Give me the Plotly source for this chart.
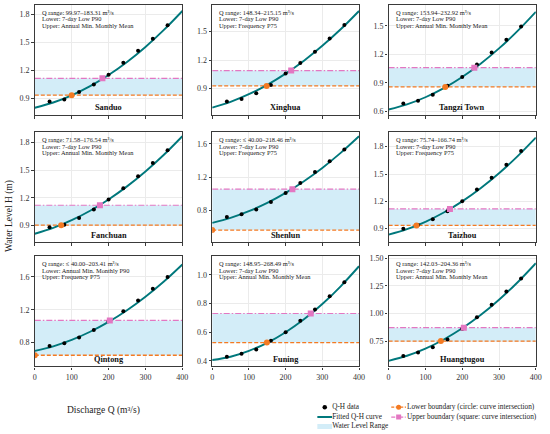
import plotly.graph_objects as go
from plotly.subplots import make_subplots

# stations, row by row
stations = ["Sanduo", "Xinghua", "Tangzi Town",
            "Fanchuan", "Shenlun", "Taizhou",
            "Qintong", "Funing", "Huangtugou"]

# measured Q-H pairs (Q in m3/s)
q_obs = [40, 80, 120, 160, 200, 240, 280, 320, 360]
sanduo_h = [0.868, 0.889, 0.968, 1.050, 1.154, 1.282, 1.410, 1.539, 1.682]
xinghua_h = [0.763, 0.791, 0.851, 0.939, 1.058, 1.170, 1.289, 1.426, 1.570]
tangzi_h = [0.684, 0.713, 0.776, 0.870, 0.963, 1.094, 1.220, 1.354, 1.494]
fanchuan_h = [0.882, 0.911, 0.983, 1.074, 1.183, 1.303, 1.433, 1.575, 1.713]
shenlun_h = [0.722, 0.755, 0.812, 0.902, 1.012, 1.131, 1.261, 1.392, 1.531]
taizhou_h = [0.900, 0.940, 1.003, 1.091, 1.200, 1.329, 1.458, 1.601, 1.752]
qintong_h = [0.760, 0.792, 0.861, 0.954, 1.060, 1.180, 1.313, 1.455, 1.596]
funing_h = [0.428, 0.449, 0.479, 0.539, 0.599, 0.679, 0.758, 0.850, 0.949]
huangtugou_h = [0.615, 0.646, 0.695, 0.765, 0.860, 0.967, 1.080, 1.200, 1.319]

# fitted curves
q_fit = [0, 50, 100, 150, 200, 250, 300, 350, 400]
sanduo_fit = [0.800, 0.856, 0.933, 1.031, 1.150, 1.290, 1.451, 1.633, 1.836]
xinghua_fit = [0.700, 0.761, 0.841, 0.940, 1.058, 1.194, 1.350, 1.524, 1.717]
tangzi_fit = [0.620, 0.674, 0.749, 0.845, 0.963, 1.102, 1.263, 1.445, 1.648]
fanchuan_fit = [0.813, 0.876, 0.959, 1.061, 1.183, 1.324, 1.485, 1.665, 1.865]
shenlun_fit = [0.653, 0.713, 0.793, 0.892, 1.012, 1.152, 1.311, 1.491, 1.690]
taizhou_fit = [0.834, 0.894, 0.975, 1.077, 1.200, 1.344, 1.508, 1.694, 1.900]
qintong_fit = [0.699, 0.755, 0.833, 0.932, 1.052, 1.194, 1.358, 1.543, 1.750]
funing_fit = [0.405, 0.428, 0.469, 0.525, 0.599, 0.689, 0.796, 0.920, 1.060]
huangtugou_fit = [0.571, 0.617, 0.682, 0.765, 0.866, 0.986, 1.125, 1.282, 1.457]

# boundaries: water level and discharge where they meet the curve
lower_h = [0.935, 0.928, 0.858, 0.905, 0.567, 0.935, 0.646, 0.527, 0.750]
upper_h = [1.115, 1.090, 1.060, 1.120, 1.057, 1.117, 1.070, 0.730, 0.872]
lower_q = [99.97, 148.34, 153.94, 71.58, 0, 75.74, 0, 148.95, 142.03]
upper_q = [183.31, 215.15, 232.92, 176.54, 218.46, 166.74, 203.41, 268.49, 204.36]
range_text = ["99.97–183.31", "148.34–215.15", "153.94–232.92",
              "71.58–176.54", "≤ 40.00–218.46", "75.74–166.74",
              "≤ 40.00–203.41", "148.95–268.49", "142.03–204.36"]
lower_src = ["7-day Low P90", "7-day Low P90", "7-day Low P90",
             "7-day Low P90", "7-day Low P90", "7-day Low P90",
             "Annual Min. Monthly P90", "7-day Low P90", "7-day Low P90"]
upper_src = ["Annual Min. Monthly Mean", "Frequency P75", "Annual Min. Monthly Mean",
             "Annual Min. Monthly Mean", "Frequency P75", "Frequency P75",
             "Frequency P75", "Annual Min. Monthly Mean", "Annual Min. Monthly Mean"]

obs_all = [sanduo_h, xinghua_h, tangzi_h, fanchuan_h, shenlun_h,
           taizhou_h, qintong_h, funing_h, huangtugou_h]
fit_all = [sanduo_fit, xinghua_fit, tangzi_fit, fanchuan_fit, shenlun_fit,
           taizhou_fit, qintong_fit, funing_fit, huangtugou_fit]

y_ranges = [[0.72, 1.90], [0.62, 1.78], [0.56, 1.72],
            [0.72, 1.91], [0.42, 1.74], [0.75, 1.96],
            [0.51, 1.85], [0.36, 1.13], [0.52, 1.52]]
y_dticks = [0.3, 0.3, 0.3, 0.3, 0.4, 0.3, 0.4, 0.2, 0.25]

W, H = 550, 434
FONT = "Liberation Serif"
TEAL = "#00787c"
ORANGE = "#f47a22"
PINK = "#e377c2"
FILL = "#d3edf8"
FRAME = "#3a3a3a"

col_px = [[33.3, 183.0], [213.3, 362.3], [392.3, 541.7]]
row_px = [[3, 114], [131, 242], [256, 367]]

fig = make_subplots(rows=3, cols=3)

for i, name in enumerate(stations):
    r, c = divmod(i, 3)
    lo, up = lower_h[i], upper_h[i]
    fig.add_trace(go.Scatter(x=[0, 400], y=[lo, lo], mode="lines",
                             line=dict(width=0), hoverinfo="skip",
                             showlegend=False), row=r + 1, col=c + 1)
    fig.add_trace(go.Scatter(x=[0, 400], y=[up, up], mode="lines",
                             fill="tonexty", fillcolor=FILL,
                             line=dict(width=0), hoverinfo="skip",
                             showlegend=False), row=r + 1, col=c + 1)
    fig.add_trace(go.Scatter(x=[0, 400], y=[lo, lo], mode="lines",
                             line=dict(color=ORANGE, width=1.3, dash="4px,2px"),
                             showlegend=False), row=r + 1, col=c + 1)
    fig.add_trace(go.Scatter(x=[0, 400], y=[up, up], mode="lines",
                             line=dict(color=PINK, width=1.2, dash="6px,2px,1.5px,2px"),
                             showlegend=False), row=r + 1, col=c + 1)
    fig.add_trace(go.Scatter(x=q_fit, y=fit_all[i], mode="lines",
                             line=dict(color=TEAL, width=1.9, shape="spline"),
                             showlegend=False), row=r + 1, col=c + 1)
    fig.add_trace(go.Scatter(x=q_obs, y=obs_all[i], mode="markers",
                             marker=dict(color="black", size=4),
                             showlegend=False), row=r + 1, col=c + 1)
    fig.add_trace(go.Scatter(x=[lower_q[i]], y=[lo], mode="markers",
                             marker=dict(color=ORANGE, size=6, symbol="circle"),
                             showlegend=False), row=r + 1, col=c + 1)
    fig.add_trace(go.Scatter(x=[upper_q[i]], y=[up], mode="markers",
                             marker=dict(color=PINK, size=6, symbol="square"),
                             showlegend=False), row=r + 1, col=c + 1)

    xa = "xaxis" if i == 0 else f"xaxis{i + 1}"
    ya = "yaxis" if i == 0 else f"yaxis{i + 1}"
    fig.layout[xa].update(
        domain=[col_px[c][0] / W, col_px[c][1] / W],
        range=[0, 400], tickvals=[0, 100, 200, 300, 400],
        showticklabels=(r == 2),
    )
    fig.layout[ya].update(
        domain=[1 - row_px[r][1] / H, 1 - row_px[r][0] / H],
        range=y_ranges[i], tick0=0, dtick=y_dticks[i],
        tickformat=".2f" if y_dticks[i] == 0.25 else ".1f",
    )

    xr = "x domain" if i == 0 else f"x{i + 1} domain"
    yr = "y domain" if i == 0 else f"y{i + 1} domain"
    lines = [f"Q range: {range_text[i]} m³/s",
             f"Lower: {lower_src[i]}",
             f"Upper: {upper_src[i]}"]
    for k, txt in enumerate(lines):
        fig.add_annotation(x=0.035, y=0.93 - k * 0.057, xref=xr, yref=yr,
                           text=txt, showarrow=False, xanchor="left",
                           yanchor="middle", font=dict(size=6.4, color="#222"))
    fig.add_annotation(x=0.5, y=0.066, xref=xr, yref=yr,
                       text=f"<b>{name}</b>", showarrow=False,
                       xanchor="center", yanchor="middle",
                       font=dict(size=8.3, color="#111"))

fig.update_xaxes(showline=True, mirror=True, linecolor=FRAME, linewidth=1.2,
                 ticks="outside", ticklen=2.5, tickwidth=0.8, tickcolor=FRAME,
                 showgrid=True, gridcolor="#ebebeb", gridwidth=0.6,
                 zeroline=False, tickfont=dict(size=8, color="#333"))
fig.update_yaxes(showline=True, mirror=True, linecolor=FRAME, linewidth=1.2,
                 ticks="outside", ticklen=2.5, tickwidth=0.8, tickcolor=FRAME,
                 showgrid=True, gridcolor="#ebebeb", gridwidth=0.6,
                 zeroline=False, tickfont=dict(size=8, color="#333"))

# hand-made legend on a hidden pixel-scaled axis (plotly's own legend rows are too tall)
fig.update_layout(
    xaxis10=dict(domain=[0, 1], range=[0, W], visible=False, anchor="y10",
                 fixedrange=True),
    yaxis10=dict(domain=[0, 60 / H], range=[H, H - 60], visible=False,
                 anchor="x10", fixedrange=True),
)
leg = dict(xaxis="x10", yaxis="y10", showlegend=False, hoverinfo="skip")
fig.add_trace(go.Scatter(x=[327.5], y=[408], mode="markers",
                         marker=dict(color="black", size=4.5), **leg))
fig.add_trace(go.Scatter(x=[320, 335], y=[418, 418], mode="lines",
                         line=dict(color=TEAL, width=2), **leg))
fig.add_trace(go.Scatter(x=[320, 335], y=[427.5, 427.5], mode="lines",
                         line=dict(color=FILL, width=5), **leg))
fig.add_trace(go.Scatter(x=[395, 410], y=[408, 408], mode="lines",
                         line=dict(color=ORANGE, width=1.3, dash="3px,1.5px"), **leg))
fig.add_trace(go.Scatter(x=[402.5], y=[408], mode="markers",
                         marker=dict(color=ORANGE, size=5, symbol="circle"), **leg))
fig.add_trace(go.Scatter(x=[395, 410], y=[418, 418], mode="lines",
                         line=dict(color=PINK, width=1.2, dash="4px,1.5px,1px,1.5px"), **leg))
fig.add_trace(go.Scatter(x=[402.5], y=[418], mode="markers",
                         marker=dict(color=PINK, size=5, symbol="square"), **leg))
fig.add_trace(go.Scatter(x=[335, 335, 335], y=[408, 418, 427.5], mode="text",
                         text=["Q-H data", "Fitted Q-H curve", "Water Level Range"],
                         textposition="middle right",
                         textfont=dict(size=7.3, color="#222", family=FONT), **leg))
fig.add_trace(go.Scatter(x=[411, 411], y=[408, 418], mode="text",
                         text=["Lower boundary (circle: curve intersection)",
                               "Upper boundary (square: curve intersection)"],
                         textposition="middle right",
                         textfont=dict(size=7.3, color="#222", family=FONT), **leg))

fig.add_annotation(x=103 / W, y=1 - 411.7 / H, xref="paper", yref="paper",
                   text="Discharge Q (m³/s)", showarrow=False,
                   xanchor="center", yanchor="middle",
                   font=dict(size=9.5, color="#222"))
fig.add_annotation(x=7.5 / W, y=1 - 215 / H, xref="paper", yref="paper",
                   text="Water Level H (m)", showarrow=False, textangle=-90,
                   xanchor="center", yanchor="middle",
                   font=dict(size=9.5, color="#222"))

fig.update_layout(
    width=W, height=H,
    margin=dict(l=0, r=0, t=0, b=0),
    paper_bgcolor="white", plot_bgcolor="white",
    font=dict(family=FONT),
    showlegend=False,
)

# the page body has an 8px default margin; drop it so the figure sits at the corner
fig.write_html("out.html", config={"displayModeBar": False},
               post_script="document.body.style.margin='0';")
